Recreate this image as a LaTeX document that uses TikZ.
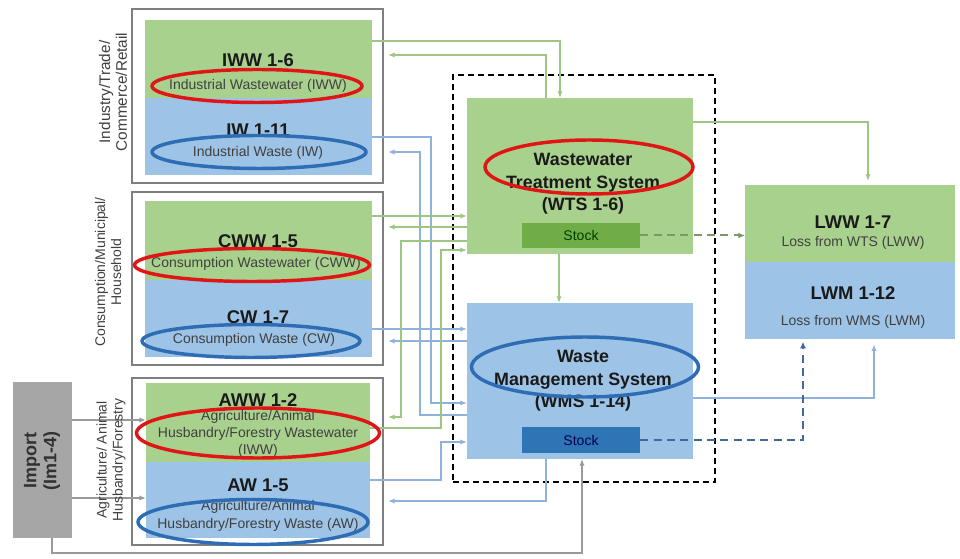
\documentclass[tikz,border=0pt]{standalone}
\usepackage{fontspec}
\setmainfont{Liberation Sans}
\usetikzlibrary{shapes.geometric,arrows.meta,fit,calc}
\definecolor{gfill}{HTML}{A9D18E}
\definecolor{bfill}{HTML}{9DC3E6}
\definecolor{gstock}{HTML}{70AD47}
\definecolor{bstock}{HTML}{2E75B6}
\definecolor{gline}{HTML}{9CC682}
\definecolor{bline}{HTML}{8FB2DA}
\definecolor{gdash}{HTML}{789A66}
\definecolor{bdash}{HTML}{41699A}
\definecolor{redc}{HTML}{E01515}
\definecolor{bluec}{HTML}{2E6DB4}
\definecolor{frame}{HTML}{7F7F7F}
\definecolor{impfill}{HTML}{A6A6A6}
\definecolor{txt}{HTML}{1A1A1A}
\definecolor{stxt}{HTML}{404040}
\begin{document}
\begin{tikzpicture}[x=0.75pt,y=-0.75pt,
  gbox/.style={fill=gfill,inner sep=0pt,outer sep=0pt},
  bbox/.style={fill=bfill,inner sep=0pt,outer sep=0pt},
  outerbox/.style={draw=frame,line width=1.2pt,inner sep=0pt,outer sep=0pt},
  title/.style={font=\fontsize{13.8}{16}\selectfont\bfseries,text=txt,inner sep=0pt},
  midtitle/.style={font=\fontsize{13.4}{17}\selectfont\bfseries,text=txt,align=center,inner sep=0pt},
  small/.style={font=\fontsize{10.5}{13}\selectfont,text=stxt,align=center,inner sep=0pt},
  side/.style={font=\fontsize{10.5}{12}\selectfont,text=stxt,align=center,rotate=90,inner sep=0pt},
  redell/.style 2 args={ellipse,draw=redc,line width=2.6pt,minimum width=#1*0.75pt,minimum height=#2*0.75pt,inner sep=0pt},
  blueell/.style 2 args={ellipse,draw=bluec,line width=2.6pt,minimum width=#1*0.75pt,minimum height=#2*0.75pt,inner sep=0pt},
  gconn/.style={draw=gline,line width=1.1pt,-{Latex[length=5pt,width=4pt]}},
  bconn/.style={draw=bline,line width=1.1pt,-{Latex[length=5pt,width=4pt]}},
  gdconn/.style={draw=gdash,line width=1.5pt,dash pattern=on 6pt off 4pt,-{Latex[length=5pt,width=4.5pt]}},
  bdconn/.style={draw=bdash,line width=1.5pt,dash pattern=on 6pt off 4pt,-{Latex[length=5pt,width=4.5pt]}},
  impconn/.style={draw=frame!80,line width=1.1pt,-{Latex[length=5pt,width=4pt]}}
]
\useasboundingbox (0,0) rectangle (960,559);

% left sector boxes
\node[outerbox,fit={(132,9)(383,183)}] (ob1) {};
\node[outerbox,fit={(132,192)(383,365)}] (ob2) {};
\node[outerbox,fit={(132,378)(383,545)}] (ob3) {};

\node[gbox,fit={(145,20)(372,98)}] (iww) {};
\node[bbox,fit={(145,98)(372,175)}] (iw) {};
\node[gbox,fit={(145,201)(372,280)}] (cww) {};
\node[bbox,fit={(145,280)(372,357)}] (cw) {};
\node[gbox,fit={(146,383)(370,462)}] (aww) {};
\node[bbox,fit={(146,462)(370,538)}] (aw) {};

% import
\node[fill=impfill,inner sep=0pt,fit={(13,382)(72,538)}] (imp) {};
\node[font=\fontsize{13.5}{15}\selectfont\bfseries,text=txt!90,align=center,rotate=90,inner sep=0pt] (impT) at (42,461) {Import\\(Im1-4)};

% middle
\node[draw=black,line width=1.3pt,dash pattern=on 4.5pt off 3pt,inner sep=0pt,fit={(453,75)(715,482)}] (sys) {};
\node[gbox,fit={(467,98)(693,254)}] (wts) {};
\node[fill=gstock,inner sep=0pt,fit={(522,223)(640,248)}] (wtsstock) {};
\node[bbox,fit={(467,303)(693,459)}] (wms) {};
\node[fill=bstock,inner sep=0pt,fit={(522,427)(640,453)}] (wmsstock) {};

% right
\node[gbox,fit={(745,185)(955,262)}] (lww) {};
\node[bbox,fit={(745,262)(955,339)}] (lwm) {};

% connectors
\draw[gconn] (iww.east |- 0,41) -| (wts.north -| 560,0);
\coordinate (e1) at (388,55);
\draw[gconn] (wts.north -| 546,0) |- (e1);
\draw[bconn] (iw.east |- 0,137) -| (431,403) -- (wms.west |- 0,403);
\coordinate (e2) at (388,152);
\draw[bconn] (wms.west |- 0,415) -| (420,152) -- (e2);
\draw[gconn] (cww.east |- 0,216) -- (wts.west |- 0,216);
\coordinate (e3) at (388,227);
\draw[gconn] (wts.west |- 0,227) -- (e3);
\draw[bconn] (cw.east |- 0,329) -- (wms.west |- 0,329);
\coordinate (e4) at (388,341);
\draw[bconn] (wms.west |- 0,341) -- (e4);
\coordinate (e5) at (388,417);
\draw[gconn] (wts.west |- 0,241) -| (401,417) -- (e5);
\draw[gconn] (aww.east |- 0,428) -| (441,250) -- (wts.west |- 0,250);
\draw[bconn] (aw.east |- 0,480) -| (441,442) -- (wms.west |- 0,442);
\coordinate (e6) at (388,501);
\draw[bconn] (wms.south -| 546,0) |- (e6);
\draw[impconn] (imp.east |- 0,420) -- (aww.west |- 0,420);
\draw[impconn] (imp.east |- 0,498) -- (aw.west |- 0,498);
\draw[impconn] (imp.south -| 52,0) |- (582,553) -- (wms.south -| 582,0);
\draw[gconn] (wts.south -| 559,0) -- (wms.north -| 559,0);
\draw[gconn,shorten >=3pt] (wts.east |- 0,122) -| (lww.north -| 868,0);
\draw[bconn,shorten >=4pt] (wms.east |- 0,398) -| (lwm.south -| 874,0);
\draw[gdconn] (wtsstock.east) -- (lww.west |- wtsstock.east);
\draw[bdconn,shorten >=2pt] (wmsstock.east) -| (lwm.south -| 803,0);

% side labels
\node[side,font=\fontsize{11.5}{12.5}\selectfont] (s1) at (113,92) {Industry/Trade/\\Commerce/Retail};
\node[side] (s2) at (108,272) {Consumption/Municipal/\\Household};
\node[side] (s3) at (111,460) {Agriculture/ Animal\\Husbandry/Forestry};

% texts left
\node[title] (t1) at (258,60) {IWW 1-6};
\node[small] (t2) at (258,86) {Industrial Wastewater (IWW)};
\node[title] (t3) at (258,130) {IW 1-11};
\node[small] (t4) at (258,153) {Industrial Waste (IW)};
\node[title] (t5) at (258,241) {CWW 1-5};
\node[small] (t6) at (256,264) {Consumption Wastewater (CWW)};
\node[title] (t7) at (258,317) {CW 1-7};
\node[small] (t8) at (254,340) {Consumption Waste (CW)};
\node[title] (t9) at (258,400) {AWW 1-2};
\node[small] (t10) at (258,434) {Agriculture/Animal\\Husbandry/Forestry Wastewater\\(IWW)};
\node[title] (t11) at (258,485) {AW 1-5};
\node[small] (t12) at (258,516) {Agriculture/Animal\\Husbandry/Forestry Waste (AW)};

% texts middle
\node[midtitle] (t13) at (583,184) {Wastewater\\Treatment System\\(WTS 1-6)};
\node[small,text=green!25!black] (t14) at (wtsstock) {Stock};
\node[midtitle] (t15) at (583,381) {Waste\\Management System\\(WMS 1-14)};
\node[small,text=blue!30!black] (t16) at (wmsstock) {Stock};

% texts right
\node[title] (t17) at (853,222) {LWW 1-7};
\node[small] (t18) at (853,243) {Loss from WTS (LWW)};
\node[title] (t19) at (853,293) {LWM 1-12};
\node[small] (t20) at (853,322) {Loss from WMS (LWM)};

% highlight ellipses
\node[redell={210}{33}] (r1) at (257,86) {};
\node[blueell={214}{33}] (b1) at (259,152) {};
\node[redell={235}{33}] (r2) at (252,265) {};
\node[blueell={218}{33}] (b2) at (251,341) {};
\node[redell={243}{50}] (r3) at (258,433) {};
\node[blueell={230}{45}] (b3) at (253,522) {};
\node[redell={208}{54}] (r4) at (589,167) {};
\node[blueell={227}{60}] (b4) at (585,367) {};
\end{tikzpicture}
\end{document}
